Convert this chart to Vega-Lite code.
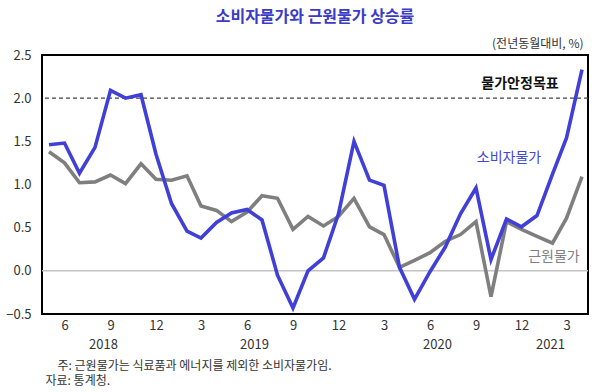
{
  "$schema": "https://vega.github.io/schema/vega-lite/v6.json",
  "width": 546,
  "height": 259,
  "autosize": {"type": "none"},
  "padding": {"left": 42, "top": 55, "right": 12, "bottom": 78},
  "title": {
    "text": "소비자물가와 근원물가 상승률",
    "color": "#3b3bc6",
    "fontSize": 16,
    "fontWeight": "bold",
    "font": "Noto Sans CJK KR",
    "anchor": "middle",
    "offset": 12
  },
  "config": {
    "font": "Noto Sans CJK KR",
    "view": {"stroke": "#000000", "strokeWidth": 2},
    "axis": {
      "grid": false,
      "ticks": false,
      "domain": false,
      "labelColor": "#333333",
      "labelFontSize": 13,
      "labelFont": "Noto Sans CJK KR",
      "titleFont": "Noto Sans CJK KR",
      "labelOverlap": false,
      "labelFlush": false
    }
  },
  "data": {
    "values": [
      {"date": "2018-05-01", "cpi": 1.46, "core": 1.38},
      {"date": "2018-06-01", "cpi": 1.48, "core": 1.25},
      {"date": "2018-07-01", "cpi": 1.13, "core": 1.02},
      {"date": "2018-08-01", "cpi": 1.43, "core": 1.03},
      {"date": "2018-09-01", "cpi": 2.09, "core": 1.11},
      {"date": "2018-10-01", "cpi": 2.00, "core": 1.01},
      {"date": "2018-11-01", "cpi": 2.04, "core": 1.24},
      {"date": "2018-12-01", "cpi": 1.35, "core": 1.06},
      {"date": "2019-01-01", "cpi": 0.78, "core": 1.05},
      {"date": "2019-02-01", "cpi": 0.46, "core": 1.10},
      {"date": "2019-03-01", "cpi": 0.38, "core": 0.75},
      {"date": "2019-04-01", "cpi": 0.56, "core": 0.70},
      {"date": "2019-05-01", "cpi": 0.67, "core": 0.57},
      {"date": "2019-06-01", "cpi": 0.71, "core": 0.68},
      {"date": "2019-07-01", "cpi": 0.59, "core": 0.87},
      {"date": "2019-08-01", "cpi": -0.05, "core": 0.84},
      {"date": "2019-09-01", "cpi": -0.43, "core": 0.48},
      {"date": "2019-10-01", "cpi": 0.00, "core": 0.63},
      {"date": "2019-11-01", "cpi": 0.15, "core": 0.52},
      {"date": "2019-12-01", "cpi": 0.66, "core": 0.63},
      {"date": "2020-01-01", "cpi": 1.50, "core": 0.84},
      {"date": "2020-02-01", "cpi": 1.05, "core": 0.51},
      {"date": "2020-03-01", "cpi": 0.99, "core": 0.42},
      {"date": "2020-04-01", "cpi": 0.04, "core": 0.04},
      {"date": "2020-05-01", "cpi": -0.33, "core": 0.12},
      {"date": "2020-06-01", "cpi": -0.01, "core": 0.21},
      {"date": "2020-07-01", "cpi": 0.27, "core": 0.34},
      {"date": "2020-08-01", "cpi": 0.66, "core": 0.42},
      {"date": "2020-09-01", "cpi": 0.96, "core": 0.57},
      {"date": "2020-10-01", "cpi": 0.13, "core": -0.30},
      {"date": "2020-11-01", "cpi": 0.60, "core": 0.57},
      {"date": "2020-12-01", "cpi": 0.51, "core": 0.48},
      {"date": "2021-01-01", "cpi": 0.64, "core": 0.40},
      {"date": "2021-02-01", "cpi": 1.12, "core": 0.32},
      {"date": "2021-03-01", "cpi": 1.54, "core": 0.61},
      {"date": "2021-04-01", "cpi": 2.33, "core": 1.09}
    ]
  },
  "layer": [
    {
      "data": {"values": [{"ref": 0}]},
      "mark": {"type": "rule", "color": "#c4c4c4", "strokeWidth": 1.5},
      "encoding": {
        "y": {"field": "ref", "type": "quantitative", "title": "(전년동월대비, %)"}
      }
    },
    {
      "data": {"values": [{"ref": 2.0}]},
      "mark": {"type": "rule", "color": "#444444", "strokeWidth": 1.2, "strokeDash": [4, 3]},
      "encoding": {
        "y": {"field": "ref", "type": "quantitative", "title": "(전년동월대비, %)"}
      }
    },
    {
      "mark": {"type": "line", "color": "#7f7f7f", "strokeWidth": 3.6},
      "encoding": {
        "x": {"field": "date", "type": "temporal", "axis": null},
        "y": {"field": "core", "type": "quantitative", "title": "(전년동월대비, %)"}
      }
    },
    {
      "mark": {"type": "line", "color": "#4040d8", "strokeWidth": 3.6},
      "encoding": {
        "x": {
          "field": "date",
          "type": "temporal",
          "scale": {
            "type": "utc",
            "domain": [
              {"year": 2018, "month": 4, "date": 17, "utc": true},
              {"year": 2021, "month": 4, "date": 13, "utc": true}
            ]
          },
          "axis": {
            "orient": "bottom",
            "title": null,
            "values": [
              {"year": 2018, "month": 6, "date": 1, "utc": true},
              {"year": 2018, "month": 9, "date": 1, "utc": true},
              {"year": 2018, "month": 12, "date": 1, "utc": true},
              {"year": 2019, "month": 3, "date": 1, "utc": true},
              {"year": 2019, "month": 6, "date": 1, "utc": true},
              {"year": 2019, "month": 9, "date": 1, "utc": true},
              {"year": 2019, "month": 12, "date": 1, "utc": true},
              {"year": 2020, "month": 3, "date": 1, "utc": true},
              {"year": 2020, "month": 6, "date": 1, "utc": true},
              {"year": 2020, "month": 9, "date": 1, "utc": true},
              {"year": 2020, "month": 12, "date": 1, "utc": true},
              {"year": 2021, "month": 3, "date": 1, "utc": true}
            ],
            "labelExpr": "'' + (utcmonth(datum.value) + 1)",
            "labelPadding": 5
          }
        },
        "y": {
          "field": "cpi",
          "type": "quantitative",
          "scale": {"domain": [-0.5, 2.5], "nice": false, "zero": false},
          "title": "(전년동월대비, %)",
          "axis": {
            "values": [-0.5, 0, 0.5, 1, 1.5, 2, 2.5],
            "format": ".1f",
            "labelPadding": 11,
            "titleAngle": 0,
            "titleAlign": "right",
            "titleBaseline": "middle",
            "titleX": 541,
            "titleY": -12,
            "titleFontSize": 12,
            "titleFontWeight": "normal",
            "titleColor": "#333333"
          }
        }
      }
    },
    {
      "mark": {"type": "point", "opacity": 0},
      "encoding": {
        "x": {
          "field": "date",
          "type": "temporal",
          "axis": {
            "orient": "bottom",
            "values": [
              {"year": 2018, "month": 8, "date": 17, "utc": true},
              {"year": 2019, "month": 6, "date": 15, "utc": true},
              {"year": 2020, "month": 6, "date": 15, "utc": true},
              {"year": 2021, "month": 1, "date": 27, "utc": true}
            ],
            "labelExpr": "'' + utcyear(datum.value)",
            "labelPadding": 24,
            "title": ["\u200b\u3000주: 근원물가는 식료품과 에너지를 제외한 소비자물가임.", "자료: 통계청."],
            "titleAnchor": "start",
            "titleAlign": "left",
            "titleBaseline": "top",
            "titleX": 3,
            "titleY": 46,
            "titleFontSize": 12,
            "titleFontWeight": "normal",
            "titleLineHeight": 15,
            "titleColor": "#333333"
          }
        },
        "y": {"field": "cpi", "type": "quantitative", "title": "(전년동월대비, %)"}
      }
    },
    {
      "data": {
        "values": [
          {"label": "물가안정목표", "date": "2020-11-28", "value": 2.16}
        ]
      },
      "mark": {"type": "text", "fontSize": 14, "fontWeight": "bold", "baseline": "middle", "align": "center", "color": "#111111"},
      "encoding": {
        "x": {"field": "date", "type": "temporal", "axis": null},
        "y": {"field": "value", "type": "quantitative", "title": "(전년동월대비, %)"},
        "text": {"field": "label"}
      }
    },
    {
      "data": {
        "values": [
          {"label": "소비자물가", "date": "2020-11-06", "value": 1.31, "group": "cpi"},
          {"label": "근원물가", "date": "2021-02-04", "value": 0.16, "group": "core"}
        ]
      },
      "mark": {"type": "text", "fontSize": 14, "baseline": "middle", "align": "center"},
      "encoding": {
        "x": {"field": "date", "type": "temporal", "axis": null},
        "y": {"field": "value", "type": "quantitative", "title": "(전년동월대비, %)"},
        "text": {"field": "label"},
        "color": {
          "field": "group",
          "type": "nominal",
          "scale": {"domain": ["cpi", "core"], "range": ["#4646d4", "#808080"]},
          "legend": null
        }
      }
    }
  ],
  "resolve": {"axis": {"x": "independent"}}
}
